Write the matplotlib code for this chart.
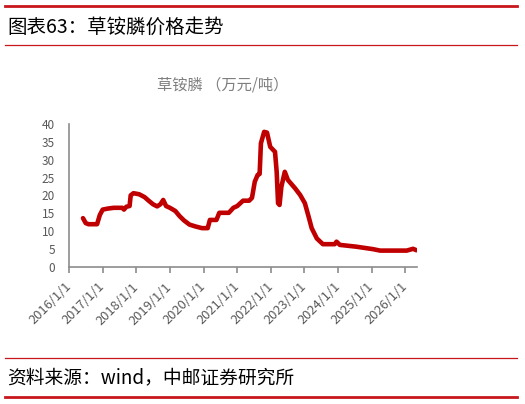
import numpy as np
import pandas as pd
import matplotlib

matplotlib.use('agg')
import matplotlib.pyplot as plt
from matplotlib.lines import Line2D

plt.rcParams['font.family'] = ['Noto Sans CJK SC', 'DejaVu Sans']

# price of glufosinate-ammonium, 万元/吨
dates = ['2016-06-01', '2016-07-01', '2016-08-01', '2016-11-01', '2016-12-01',
         '2017-01-01', '2017-03-01', '2017-05-01', '2017-08-01', '2017-08-20',
         '2017-09-15', '2017-10-20', '2017-11-01', '2017-12-01', '2018-02-01',
         '2018-04-01', '2018-05-15', '2018-07-01', '2018-08-15', '2018-09-20',
         '2018-10-20', '2018-11-20', '2019-01-01', '2019-03-01', '2019-04-15',
         '2019-06-01', '2019-08-01', '2019-10-01', '2019-12-15', '2020-02-15',
         '2020-03-10', '2020-05-20', '2020-06-20', '2020-10-01', '2020-11-20',
         '2021-01-01', '2021-03-05', '2021-05-10', '2021-06-10', '2021-07-10',
         '2021-08-10', '2021-09-01', '2021-09-15', '2021-10-20', '2021-11-20',
         '2021-12-25', '2022-02-15', '2022-03-05', '2022-03-20', '2022-04-05',
         '2022-04-25', '2022-06-01', '2022-07-05', '2022-09-20', '2022-11-15',
         '2023-01-05', '2023-02-15', '2023-03-20', '2023-05-15', '2023-07-20',
         '2023-11-25', '2023-12-15', '2024-01-20', '2024-07-15', '2025-01-15',
         '2025-04-01', '2026-01-15', '2026-03-25', '2026-05-01']
prices = [13.6, 12.2, 11.9, 11.9, 14.5,
          16.0, 16.3, 16.5, 16.5, 16.0,
          16.8, 17.0, 20.0, 20.6, 20.3,
          19.5, 18.5, 17.5, 16.9, 17.5,
          18.7, 17.0, 16.5, 15.6, 14.2,
          13.0, 11.8, 11.3, 10.8, 10.8,
          13.1, 13.1, 15.1, 15.1, 16.5,
          17.0, 18.5, 18.5, 19.3, 23.8,
          25.7, 26.0, 34.6, 37.8, 37.6,
          33.6, 32.2, 26.6, 17.8, 17.3,
          22.4, 26.6, 24.3, 22.0, 20.1,
          17.8, 14.0, 10.8, 7.9, 6.3,
          6.3, 7.0, 6.1, 5.6, 4.9,
          4.5, 4.5, 5.0, 4.6]
tick_labels = ['2016/1/1', '2017/1/1', '2018/1/1', '2019/1/1', '2020/1/1', '2021/1/1',
               '2022/1/1', '2023/1/1', '2024/1/1', '2025/1/1', '2026/1/1']

red = '#C00000'
frame_red = '#C8161D'
gray = '#595959'

fig = plt.figure(figsize=(5.25, 4.04), dpi=100)
ax = fig.add_axes([0.1314, 0.34, 0.6626, 0.353])

x = pd.to_datetime(dates)
ax.plot(x, prices, color=red, lw=3.3, solid_joinstyle='round', solid_capstyle='round')

ax.set_ylim(0, 40)
ax.set_yticks(np.arange(0, 41, 5))
ax.set_xlim(pd.Timestamp('2016-01-01'), pd.Timestamp('2026-05-05'))
ticks = pd.to_datetime([t.replace('/', '-') for t in tick_labels])
ax.set_xticks(ticks)
ax.set_xticklabels(tick_labels, rotation=45, ha='right', va='center', rotation_mode='anchor')

for s in ['top', 'right']:
    ax.spines[s].set_visible(False)
for s in ['left', 'bottom']:
    ax.spines[s].set_color('#8c8c8c')
    ax.spines[s].set_linewidth(1.2)
ax.tick_params(axis='y', length=0, labelsize=8.5, colors=gray, pad=10)
ax.tick_params(axis='x', length=4, width=1.2, color='#8c8c8c', labelsize=9.3, labelcolor=gray, pad=9)

fig.text(223 / 525, 1 - 85 / 404, '草铵膦 （万元/吨）', ha='center', va='center',
         fontsize=11, color='#7f7f7f')

# frame lines and texts
fig.add_artist(Line2D([5 / 525, 517 / 525], [1 - 6 / 404, 1 - 6 / 404], color=frame_red, lw=2))
fig.add_artist(Line2D([5 / 525, 517 / 525], [1 - 45 / 404, 1 - 45 / 404], color=frame_red, lw=0.9))
fig.add_artist(Line2D([5 / 525, 517 / 525], [1 - 358 / 404, 1 - 358 / 404], color=frame_red, lw=0.9))
fig.add_artist(Line2D([5 / 525, 517 / 525], [1 - 397 / 404, 1 - 397 / 404], color=frame_red, lw=2))

fig.text(7 / 525, 1 - 27 / 404, '图表63：草铵膦价格走势', ha='left', va='center',
         fontsize=14, color='black')
fig.text(7 / 525, 1 - 378 / 404, '资料来源：wind，中邮证券研究所', ha='left', va='center',
         fontsize=13.5, color='black')

fig.savefig('out.png', dpi=100)
